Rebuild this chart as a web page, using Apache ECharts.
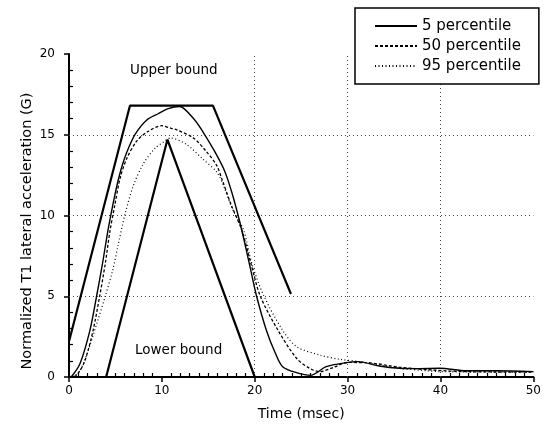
<!DOCTYPE html>
<html>
<head>
<meta charset="utf-8">
<script src="https://cdn.jsdelivr.net/npm/echarts@6/dist/echarts.min.js"></script>
<style>
html, body { margin: 0; padding: 0; background: #fff; }
#chart { width: 544px; height: 427px; }
</style>
</head>
<body>
<div id="chart"></div>
<script>
// curves: [time msec, G]
var p5 = [[0,0],[0.3,0.05],[1.2,0.85],[2.26,2.9],[2.97,5],[3.6,7],[4.2,9.1],[4.7,10.6],[5.3,12.2],[5.9,13.4],[6.5,14.3],[7.2,15.1],[8.35,15.9],[9.6,16.3],[10.6,16.6],[11.9,16.75],[13.4,16.0],[14.4,15.2],[15.7,13.95],[16.8,12.7],[17.6,11.3],[18.3,9.8],[18.8,8.6],[19.5,6.8],[20.2,5],[21.25,2.9],[22.2,1.5],[23,0.64],[24.5,0.27],[26,0.1],[27.7,0.64],[29.9,0.89],[31.1,0.95],[33.4,0.68],[35.6,0.54],[37.5,0.52],[39.9,0.54],[42.8,0.39],[46,0.39],[50,0.33]];
var p50 = [[0,0],[0.8,0.1],[1.7,1.0],[2.6,2.9],[3.3,5],[3.9,7],[4.4,9],[4.95,10.7],[5.5,12.3],[6.2,13.5],[7.28,14.6],[8.5,15.2],[9.97,15.56],[11.0,15.4],[11.6,15.3],[13.4,14.8],[14.8,13.95],[15.9,13.1],[16.5,12.2],[17.5,10.6],[18.6,9.1],[19.6,7.0],[20.6,5],[22.5,2.9],[24.5,1.16],[25.9,0.54],[27,0.33],[28.5,0.6],[30,0.9],[32,0.89],[35.6,0.6],[39.2,0.43],[42.8,0.33],[50,0.3]];
var p95 = [[0,0],[0.9,0.2],[1.7,1.05],[3.1,3.5],[3.9,5],[4.7,6.6],[5.3,8.2],[6.0,10.0],[6.9,11.8],[8.0,13.2],[9.25,14.15],[10.3,14.6],[10.9,14.8],[12.65,14.4],[14.4,13.5],[15.9,12.7],[16.6,11.9],[17.6,10.4],[18.8,9.1],[19.7,7.0],[21.0,5],[23.0,2.9],[24.5,1.88],[27,1.36],[29.1,1.1],[31.3,0.95],[35.6,0.54],[38.5,0.39],[40,0.33],[50,0.3]];
var upperBound = [[0,2.2],[6.56,16.8],[15.5,16.8],[23.9,5.14]];
var lowerBound = [[4,0],[10.6,14.7],[20,0]];
var names = ['5 percentile', '50 percentile', '95 percentile'];
// dotted grid lines that show in the picture
var xGrid = [20, 30, 40];
var yGrid = [5, 10, 15];

var gridMarks = [];
xGrid.forEach(function (v) { gridMarks.push({ xAxis: v }); });
yGrid.forEach(function (v) { gridMarks.push({ yAxis: v }); });

var font = 'DejaVu Sans';
var myChart = echarts.init(document.getElementById('chart'));
var option = {
    backgroundColor: '#FFFFFF',
    animation: false,
    textStyle: { fontFamily: font, color: '#000' },
    grid: { left: 69, right: 10, top: 54, bottom: 50 },
    legend: {
        data: names,
        orient: 'vertical',
        left: 355,
        top: 8,
        padding: [10, 18, 10, 19],
        itemGap: 4,
        itemWidth: 42,
        itemHeight: 10,
        itemStyle: { opacity: 0 },
        backgroundColor: '#fff',
        borderColor: '#000',
        borderWidth: 1.5,
        textStyle: { fontFamily: font, fontSize: 15, color: '#000', lineHeight: 16 }
    },
    xAxis: {
        type: 'value',
        min: 0, max: 50, interval: 10,
        name: 'Time (msec)',
        nameLocation: 'middle',
        nameGap: 30,
        nameTextStyle: { fontFamily: font, fontSize: 14, color: '#000' },
        axisLine: { lineStyle: { color: '#000', width: 2 } },
        axisTick: { length: 5, lineStyle: { color: '#000', width: 1.5 } },
        minorTick: { show: true, splitNumber: 10, length: -4, lineStyle: { color: '#000', width: 1.2 } },
        axisLabel: { fontFamily: font, fontSize: 12, color: '#000', margin: 8 },
        splitLine: { show: false }
    },
    yAxis: {
        type: 'value',
        min: 0, max: 20, interval: 5,
        axisLine: { show: true, lineStyle: { color: '#000', width: 2 } },
        axisTick: { show: true, length: 5, lineStyle: { color: '#000', width: 1.5 } },
        minorTick: { show: true, splitNumber: 5, length: -4, lineStyle: { color: '#000', width: 1.2 } },
        axisLabel: { fontFamily: font, fontSize: 12, color: '#000', margin: 14 },
        splitLine: { show: false }
    },
    graphic: [
        { type: 'text', left: 130, top: 63, style: { text: 'Upper bound', font: '13.5px "DejaVu Sans"', fill: '#000' } },
        { type: 'text', left: 135, top: 343, style: { text: 'Lower bound', font: '13.5px "DejaVu Sans"', fill: '#000' } },
        { type: 'text', x: 27, y: 231, rotation: Math.PI / 2,
          style: { text: 'Normalized T1 lateral acceleration (G)', font: '14.5px "DejaVu Sans"', fill: '#000', align: 'center', verticalAlign: 'middle' } }
    ],
    series: [
        { name: names[0], type: 'line', data: p5, symbol: 'none', smooth: 0.3,
          lineStyle: { color: '#000', width: 1.4, type: 'solid' }, itemStyle: { color: '#000' } },
        { name: names[1], type: 'line', data: p50, symbol: 'none', smooth: 0.3,
          lineStyle: { color: '#000', width: 1.3, type: [3, 2] }, itemStyle: { color: '#000' } },
        { name: names[2], type: 'line', data: p95, symbol: 'none', smooth: 0.3,
          lineStyle: { color: '#000', width: 1.2, type: [1, 2.5] }, itemStyle: { color: '#000' } },
        { name: 'Upper bound', type: 'line', data: upperBound, symbol: 'none', z: 3,
          lineStyle: { color: '#000', width: 2.2 },
          markLine: {
              silent: true, symbol: 'none', label: { show: false }, z: 1,
              lineStyle: { color: '#444', width: 1, type: [1, 3] },
              data: gridMarks
          } },
        { name: 'Lower bound', type: 'line', data: lowerBound, symbol: 'none',
          lineStyle: { color: '#000', width: 2.2 } }
    ]
};
myChart.setOption(option);
</script>
</body>
</html>
